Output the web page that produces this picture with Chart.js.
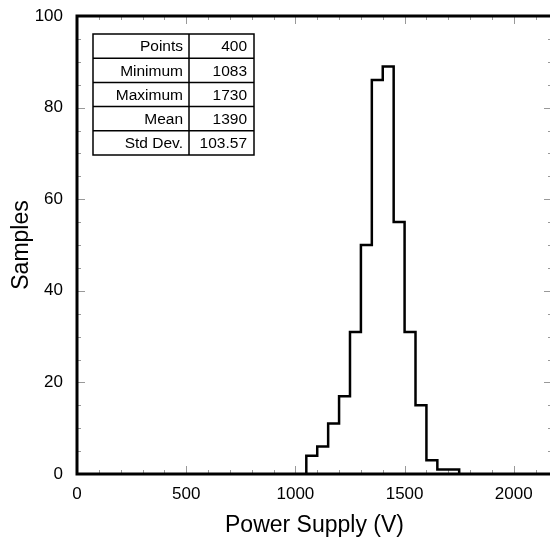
<!DOCTYPE html>
<html><head><meta charset="utf-8">
<script src="https://cdn.jsdelivr.net/npm/chart.js@4"></script>
<style>html,body{margin:0;padding:0;overflow:hidden;background:#fff}</style>
</head><body>
<canvas id="c" width="556" height="545"></canvas>
<script>
// ---- data ----
const binStarts = [1050,1100,1150,1200,1250,1300,1350,1400,1450,1500,1550,1600,1650,1700];
const binWidth = 50;
const counts = [4,6,11,17,31,50,86,89,55,31,15,3,1,1];
const xTickValues = [0,500,1000,1500,2000];
const yTickValues = [0,20,40,60,80,100];
const statLabels = ['Points','Minimum','Maximum','Mean','Std Dev.'];
const statValues = ['400','1083','1730','1390','103.57'];
const xTitle = 'Power Supply (V)';
const yTitle = 'Samples';

const FONT = "'Liberation Sans', Arial, Helvetica, sans-serif";

const points = [{x: binStarts[0], y: 0}]
  .concat(binStarts.map((b, i) => ({x: b, y: counts[i]})))
  .concat([{x: binStarts[binStarts.length - 1] + binWidth, y: 0}]);

const framePlugin = {
  id: 'frame',
  beforeDatasetsDraw(chart) {
    const {ctx, chartArea: a, scales: {x, y}} = chart;
    ctx.save();
    ctx.strokeStyle = '#999';
    ctx.lineWidth = 1;
    ctx.beginPath();
    for (let v = 0; v <= x.max; v += 100) {
      const px = Math.round(x.getPixelForValue(v)) + 0.5;
      const len = (v % 500 === 0) ? 8 : 4;
      ctx.moveTo(px, a.bottom); ctx.lineTo(px, a.bottom - len);
      ctx.moveTo(px, a.top); ctx.lineTo(px, a.top + len);
    }
    for (let v = 0; v <= y.max; v += 5) {
      const py = Math.round(y.getPixelForValue(v)) + 0.5;
      const len = (v % 20 === 0) ? 8 : 4;
      ctx.moveTo(a.left, py); ctx.lineTo(a.left + len, py);
      ctx.moveTo(a.right, py); ctx.lineTo(a.right - len, py);
    }
    ctx.stroke();
    ctx.restore();
  },
  afterDraw(chart) {
    const {ctx, chartArea: a} = chart;
    ctx.save();
    ctx.strokeStyle = '#000';
    ctx.lineWidth = 3;
    ctx.strokeRect(a.left, a.top, a.right - a.left, a.bottom - a.top);
    // stats table
    const x0 = a.left + 16, y0 = a.top + 18;
    const c1 = 96, c2 = 65, rh = 24.2;
    const n = statLabels.length;
    ctx.fillStyle = '#fff';
    ctx.fillRect(x0, y0, c1 + c2, rh * n);
    ctx.lineWidth = 1.5;
    ctx.strokeStyle = '#000';
    ctx.strokeRect(x0, y0, c1 + c2, rh * n);
    ctx.beginPath();
    ctx.moveTo(x0 + c1, y0); ctx.lineTo(x0 + c1, y0 + rh * n);
    for (let i = 1; i < n; i++) {
      ctx.moveTo(x0, y0 + rh * i); ctx.lineTo(x0 + c1 + c2, y0 + rh * i);
    }
    ctx.stroke();
    ctx.fillStyle = '#000';
    ctx.font = '15.5px ' + FONT;
    ctx.textAlign = 'right';
    ctx.textBaseline = 'middle';
    for (let i = 0; i < n; i++) {
      const cy = y0 + rh * i + rh / 2 + 1;
      ctx.fillText(statLabels[i], x0 + c1 - 6, cy);
      ctx.fillText(statValues[i], x0 + c1 + c2 - 7, cy);
    }
    ctx.restore();
  }
};

new Chart(document.getElementById('c'), {
  type: 'line',
  data: {
    datasets: [{
      data: points,
      stepped: 'before',
      borderColor: '#000',
      borderWidth: 2.5,
      pointRadius: 0,
      fill: false,
      tension: 0
    }]
  },
  options: {
    responsive: false,
    animation: false,
    events: [],
    layout: {padding: {top: 16, right: 4, left: 0, bottom: 0}},
    plugins: {legend: {display: false}, tooltip: {enabled: false}},
    scales: {
      x: {
        type: 'linear', min: 0, max: 2175,
        grid: {display: false, drawTicks: false},
        border: {display: false},
        afterBuildTicks(s) { s.ticks = xTickValues.map(v => ({value: v})); },
        ticks: {autoSkip: false, maxRotation: 0, color: '#000',
                callback: v => String(v),
                padding: 10, font: {size: 17, family: FONT}},
        title: {display: true, text: xTitle, color: '#000',
                font: {size: 23, family: FONT, lineHeight: 1}, padding: {top: 8.5, bottom: 7.5}},
        afterFit(s) { s.height = 71; s.paddingLeft = 0; s.paddingRight = 0; }
      },
      y: {
        type: 'linear', min: 0, max: 100,
        grid: {display: false, drawTicks: false},
        border: {display: false},
        afterBuildTicks(s) { s.ticks = yTickValues.map(v => ({value: v})); },
        ticks: {autoSkip: false, color: '#000', padding: 14,
                callback: v => String(v), font: {size: 17, family: FONT}},
        title: {display: true, text: yTitle, color: '#000',
                font: {size: 23, family: FONT, lineHeight: 1}, padding: {top: 10, bottom: 10}},
        afterFit(s) { s.width = 77; s.paddingTop = 0; s.paddingBottom = 0; }
      }
    }
  },
  plugins: [framePlugin]
});
</script>
</body></html>
